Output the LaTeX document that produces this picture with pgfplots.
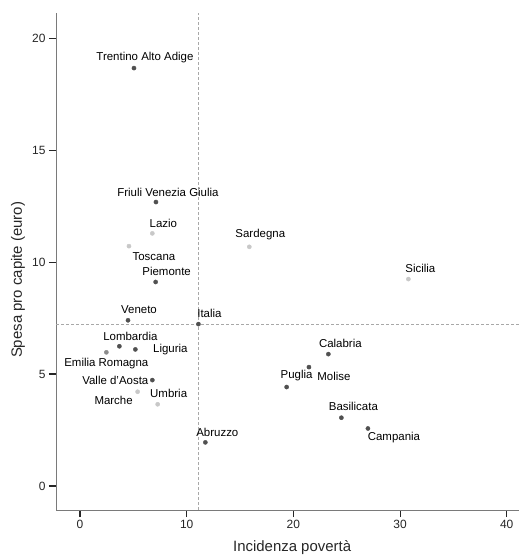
\documentclass[border=0pt]{standalone}
\usepackage{fontspec}
\setmainfont{Liberation Sans}
\usepackage{pgfplots}
\usepackage{pgfplotstable}
\pgfplotsset{compat=1.18}

\definecolor{dotdark}{HTML}{505050}
\definecolor{dotmid}{HTML}{8C8C8C}
\definecolor{dotlight}{HTML}{C8C8C8}
\definecolor{axisgray}{HTML}{7A7A7A}
\definecolor{refgray}{HTML}{A8A8A8}

% x y dx dy name   (dx, dy = label offset in bp)
\pgfplotstableread{
x y dx dy name
5.06 18.66 11 11 {Trentino Alto Adige}
7.12 12.68 12 10 {Friuli Venezia Giulia}
7.09 9.11 11 11 {Piemonte}
4.50 7.40 11 11 {Veneto}
11.10 7.23 11 11 {Italia}
3.69 6.24 11 10 {Lombardia}
5.19 6.10 35 0 {Liguria}
6.78 4.73 -37 0 {Valle d'Aosta}
11.75 1.95 12 10 {Abruzzo}
19.37 4.42 10 11 {Puglia}
21.46 5.31 25 -9 {Molise}
23.28 5.89 12 11 {Calabria}
24.50 3.05 12 11 {Basilicata}
26.99 2.57 26 -9 {Campania}
}\tabdark

\pgfplotstableread{
x y dx dy name
2.47 5.97 0 -11 {Emilia Romagna}
}\tabmid

\pgfplotstableread{
x y dx dy name
6.78 11.28 11 10 {Lazio}
4.59 10.71 25 -10 {Toscana}
15.87 10.68 11 12 {Sardegna}
30.78 9.24 12 11 {Sicilia}
5.40 4.21 -24 -9 {Marche}
7.28 3.65 11 11 {Umbria}
}\tablight

\pgfplotsset{
  labelled/.style={
    only marks, mark=*, mark size=2.1pt,
    point meta=explicit symbolic,
    visualization depends on={\thisrow{dx} \as \dx},
    visualization depends on={\thisrow{dy} \as \dy},
    nodes near coords,
    every node near coord/.append style={
      anchor=center, xshift=\dx bp, yshift=\dy bp,
      font=\fontsize{11.5}{13}\selectfont, text=black},
  },
}

\begin{document}
\begin{tikzpicture}
\begin{axis}[
  scale only axis,
  width=463bp, height=497bp,
  xmin=-2.25, xmax=41.15,
  ymin=-1.07, ymax=21.12,
  axis lines=left,
  axis line style={-, axisgray, line width=0.9pt},
  xtick={0,10,20,30,40},
  ytick={0,5,10,15,20},
  tick align=outside,
  major tick length=7bp,
  tick style={black!85, line width=1.1pt},
  /pgf/number format/assume math mode=true,
  tick label style={font=\fontsize{12}{14}\selectfont, text=black!85},
  xlabel={Incidenza povertà},
  ylabel={Spesa pro capite (euro)},
  label style={font=\fontsize{15}{17}\selectfont, text=black!85},
  xlabel style={at={(axis description cs:0.51,-0.0765)}, anchor=center},
  ylabel style={at={(axis description cs:-0.082,0.463)}, anchor=center},
  clip=false,
]
\addplot[refgray, line width=0.8pt, dash pattern=on 3bp off 2bp, forget plot]
  coordinates {(11.1,-1.07) (11.1,21.12)};
\addplot[refgray, line width=0.8pt, dash pattern=on 3bp off 2bp, forget plot]
  coordinates {(-2.25,7.23) (41.15,7.23)};
\addplot[labelled, color=dotlight]
  table[x=x, y=y, meta=name] {\tablight};
\addplot[labelled, color=dotmid]
  table[x=x, y=y, meta=name] {\tabmid};
\addplot[labelled, color=dotdark]
  table[x=x, y=y, meta=name] {\tabdark};
\end{axis}
\pgfresetboundingbox
\path[use as bounding box] (-56bp,-50bp) rectangle (464bp,510bp);
\end{tikzpicture}
\end{document}
